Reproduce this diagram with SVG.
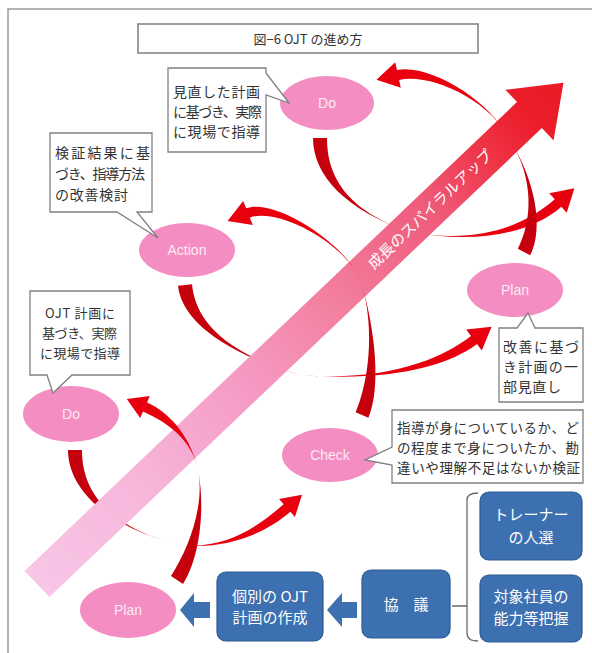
<svg xmlns="http://www.w3.org/2000/svg" width="592" height="653" viewBox="0 0 592 653">
<defs>
<style>
.frame{fill:none;stroke:#9a9a9a;stroke-width:1.5}
.callout{fill:#ffffff;stroke:#808080;stroke-width:1.3}
.ct{font-family:"Noto Sans CJK JP","Noto Sans CJK SC",sans-serif;font-size:14px;fill:#333333}
.ell{fill:#f38dc2}
.et{font-family:"Liberation Sans","DejaVu Sans",sans-serif;font-size:14px;fill:#fdeaf4;text-anchor:middle}
.blue{fill:#3d70b0;stroke:#2c5a92;stroke-width:1.2}
.bt{font-family:"Noto Sans CJK JP","Noto Sans CJK SC",sans-serif;font-size:15px;fill:#ffffff;text-anchor:middle}
.tail{fill:#c6000c}
.head{fill:#e8000f}
</style>
<linearGradient id="bandGrad" gradientUnits="userSpaceOnUse" x1="0" y1="0" x2="727" y2="0">
<stop offset="0" stop-color="#f8c6e6"/>
<stop offset="0.18" stop-color="#f7b8dc"/>
<stop offset="0.4" stop-color="#f59ac4"/>
<stop offset="0.56" stop-color="#f3809f"/>
<stop offset="0.75" stop-color="#ef5a7a"/>
<stop offset="0.86" stop-color="#ee3345"/>
<stop offset="0.93" stop-color="#ec1e2c"/>
<stop offset="1" stop-color="#ea1a26"/>
</linearGradient>
</defs>
<rect width="592" height="653" fill="#ffffff"/>
<path class="frame" d="M8,653 V9 H592"/>

<g id="title">
<rect x="138" y="24" width="340" height="29" fill="#ffffff" stroke="#7f7f7f" stroke-width="1.5"/>
<text x="308" y="44" class="ct" style="font-size:13px" text-anchor="middle">図−6 OJT の進め方</text>
</g>

<g id="connectors-back">
<path class="tail" d="M82,450 C82,485 100,525 180,545 C100,525 68,485 68,450 Z"/>
<path class="head" d="M180,545 C225,550 265.3,533.75 290.3,511.75 L294.9,517 L302,494.8 L279.1,499 L283.7,504.25 C258.7,526.25 225,550 180,545 Z"/>
<path class="tail" d="M192,284.3 C195,314.3 215,350 300,375 C215,350 181,315.7 178,285.7 Z"/>
<path class="head" d="M300,375 C390,382 448,366 477,344 L481.8,350.4 L491.6,326.8 L466.2,329.6 L471,336 C442,358 390,382 300,375 Z"/>
<path class="tail" d="M327,138 C327,175 345,210 410,232 C345,210 313,175 313,138 Z"/>
<path class="head" d="M410,232 C480,245 533.3,231.7 561.3,206.7 L566.7,212.7 L574.4,188.3 L549.3,193.3 L554.7,199.3 C526.7,224.3 480,245 410,232 Z"/>
</g>

<g id="spiral-band" transform="translate(37,584) rotate(-43.6)">
<polygon points="0,-18 680,-18 680,-35 727,0 680,35 680,18 0,18" fill="url(#bandGrad)"/>
<text x="543" y="5" class="ct" style="font-size:15px;fill:#ffffff" text-anchor="middle">成長のスパイラルアップ</text>
</g>

<g id="connectors-front">
<path class="tail" d="M183,584 C201,556 205,505 198,470 C205,505 189,548 171,576 Z"/>
<path class="head" d="M198,470 C192,440 172,413.4 147,402.4 L149.8,396.1 L126.8,399 L140.2,417.9 L143,411.6 C168,422.6 192,440 198,470 Z"/>
<path class="tail" d="M368.4,417.8 C381.4,387.8 375,330 362,285 C375,330 368.6,382.2 355.6,412.2 Z"/>
<path class="head" d="M362,285 C350,245 274.15,197.35 246.15,208.35 L243.2,200.9 L227.5,221.1 L252.8,225.1 L249.85,217.65 C277.85,206.65 350,245 362,285 Z"/>
<path class="tail" d="M530.2,255.2 C544.2,228.2 535,180 510,140 C535,180 531.8,221.8 517.8,248.8 Z"/>
<path class="head" d="M510,140 C490,100 428.9,63.1 396.9,70.1 L395.2,62.3 L376.5,79.7 L400.8,87.7 L399.1,79.9 C431.1,72.9 490,100 510,140 Z"/>
</g>

<g id="do-top"><ellipse class="ell" cx="327" cy="103" rx="47" ry="27"/><text class="et" x="327" y="108">Do</text></g>
<g id="action"><ellipse class="ell" cx="187" cy="250" rx="48" ry="27"/><text class="et" x="187" y="255">Action</text></g>
<g id="plan-right"><ellipse class="ell" cx="515" cy="290" rx="48" ry="27"/><text class="et" x="515" y="295">Plan</text></g>
<g id="do-left"><ellipse class="ell" cx="71" cy="414" rx="48" ry="28"/><text class="et" x="71" y="419">Do</text></g>
<g id="check"><ellipse class="ell" cx="330" cy="455" rx="48" ry="27"/><text class="et" x="330" y="460">Check</text></g>
<g id="plan-bottom"><ellipse class="ell" cx="128" cy="610" rx="48" ry="28"/><text class="et" x="128" y="615">Plan</text></g>

<g id="note-do-top">
<path class="callout" d="M168,68 H266 V73 L289,103 L266,95 V152 H168 Z"/>
<text class="ct" x="173" y="97" textLength="87" lengthAdjust="spacing">見直した計画</text>
<text class="ct" x="173" y="117" textLength="89" lengthAdjust="spacing">に基づき、実際</text>
<text class="ct" x="173" y="137" textLength="87" lengthAdjust="spacing">に現場で指導</text>
</g>
<g id="note-action">
<path class="callout" d="M50,133 H152 V212 H137 L158,238 L117,212 H50 Z"/>
<text class="ct" x="55" y="158" textLength="95" lengthAdjust="spacing">検証結果に基</text>
<text class="ct" x="55" y="179" textLength="90" lengthAdjust="spacing">づき、指導方法</text>
<text class="ct" x="55" y="200" textLength="73" lengthAdjust="spacing">の改善検討</text>
</g>
<g id="note-do-left">
<path class="callout" d="M30,291 H130 V375 H72 L53,393 L47,375 H30 Z"/>
<text class="ct" style="font-size:13px" x="45" y="318" textLength="70" lengthAdjust="spacing">OJT 計画に</text>
<text class="ct" style="font-size:13px" x="42" y="338" textLength="75" lengthAdjust="spacing">基づき、実際</text>
<text class="ct" style="font-size:13px" x="40" y="358" textLength="80" lengthAdjust="spacing">に現場で指導</text>
</g>
<g id="note-plan-right">
<path class="callout" d="M499,328 H517 L528,313 L535,328 H583 V402 H499 Z"/>
<text class="ct" x="503" y="352" textLength="76" lengthAdjust="spacing">改善に基づ</text>
<text class="ct" x="503" y="372" textLength="75" lengthAdjust="spacing">き計画の一</text>
<text class="ct" x="503" y="392" textLength="58" lengthAdjust="spacing">部見直し</text>
</g>
<g id="note-check">
<path class="callout" d="M392,410 H583 V483 H392 V465 L365,460 L392,447 Z"/>
<text class="ct" style="font-size:13.5px" x="397" y="433" textLength="182" lengthAdjust="spacing">指導が身についているか、ど</text>
<text class="ct" style="font-size:13.5px" x="397" y="453" textLength="182" lengthAdjust="spacing">の程度まで身についたか、勘</text>
<text class="ct" style="font-size:13.5px" x="397" y="473" textLength="183" lengthAdjust="spacing">違いや理解不足はないか検証</text>
</g>

<g id="box-trainer">
<rect class="blue" x="480" y="492" width="102" height="68" rx="9"/>
<text class="bt" x="531" y="520">トレーナー</text>
<text class="bt" x="531" y="543">の人選</text>
</g>
<g id="box-target">
<rect class="blue" x="480" y="575" width="102" height="67" rx="9"/>
<text class="bt" x="531" y="602">対象社員の</text>
<text class="bt" x="531" y="624">能力等把握</text>
</g>
<g id="box-kyogi">
<rect class="blue" x="362" y="570" width="88" height="68" rx="9"/>
<text class="bt" x="406" y="610">協　議</text>
</g>
<g id="box-kobetsu">
<rect class="blue" x="217" y="572" width="106" height="69" rx="9"/>
<text class="bt" x="270" y="602">個別の OJT</text>
<text class="bt" x="270" y="623">計画の作成</text>
</g>

<g id="bottom-connectors">
<path d="M478,493 Q467,493 467,500 V633 Q467,641 478,641 M467,606 H452" fill="none" stroke="#6a6a6a" stroke-width="1.3"/>
<polygon points="327,610 342,593 342,602 357,602 357,618 342,618 342,627" fill="#3d70b0"/>
<polygon points="180,610 194,593 194,602 210,602 210,618 194,618 194,627" fill="#3d70b0"/>
</g>
</svg>
